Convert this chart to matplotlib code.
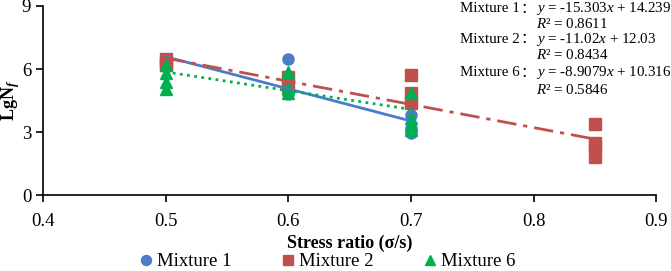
import numpy as np
import matplotlib
matplotlib.use('Agg')
import matplotlib.pyplot as plt

plt.rcParams['font.family']=['Liberation Serif','Noto Sans CJK SC']
plt.rcParams['mathtext.fontset']='custom'
plt.rcParams['mathtext.rm']='Liberation Serif'
plt.rcParams['mathtext.it']='Liberation Serif:italic'
plt.rcParams['mathtext.bf']='Liberation Serif:bold'
plt.rcParams['mathtext.bfit']='Liberation Serif:bold:italic'

# data
m1_x=[0.5,0.5,0.5,0.6,0.6,0.6,0.7,0.7,0.7]
m1_y=[6.5,6.3,6.2,6.48,5.0,4.8,3.8,3.2,2.95]
m2_x=[0.5,0.5,0.5,0.6,0.6,0.7,0.7,0.7,0.85,0.85,0.85,0.85]
m2_y=[6.5,6.3,6.2,5.6,5.2,5.7,4.86,4.4,3.38,2.5,2.3,1.8]
m6_x=[0.5,0.5,0.5,0.5,0.6,0.6,0.6,0.7,0.7,0.7,0.7]
m6_y=[6.2,5.8,5.4,5.05,5.86,5.1,4.86,4.86,3.67,3.33,3.1]

# fitted lines (slope, intercept, r2, x range)
fits={'Mixture 1':(-15.303,14.239,0.8611,0.5,0.7),
      'Mixture 2':(-11.02,12.03,0.8434,0.5,0.85),
      'Mixture 6':(-8.9079,10.316,0.5846,0.5,0.7)}
slope_txt={'Mixture 1':('-15.303','14.239'),'Mixture 2':('-11.02','12.03'),'Mixture 6':('-8.9079','10.316')}

c1='#4A7CC8'
c2='#C0504D'
c6='#00B050'

fig=plt.figure(figsize=(6.71,2.71),dpi=100)
ax=fig.add_axes([0.064,0.28,0.914,0.698])

ax.plot(m1_x,m1_y,'o',color=c1,ms=8,label='Mixture 1',zorder=3)
ax.plot(m2_x,m2_y,'s',color=c2,ms=8.5,label='Mixture 2',zorder=3)
ax.plot(m6_x,m6_y,'^',color=c6,ms=8.5,label='Mixture 6',zorder=3)

styles={'Mixture 1':(c1,'-'),'Mixture 2':(c2,(0,(7,2.5,1.5,2.5))),'Mixture 6':(c6,(0,(1,1.6)))}
for k in fits:
    a,b,r,x0,x1=fits[k]
    xx=np.array([x0,x1])
    col,ls=styles[k]
    ax.plot(xx,a*xx+b,color=col,linestyle=ls,lw=2,zorder=4)

ax.set_xlim(0.4,0.9)
ax.set_ylim(0,9)
ax.set_xticks([0.4,0.5,0.6,0.7,0.8,0.9])
ax.set_xticklabels(['%.1f'%v for v in [0.4,0.5,0.6,0.7,0.8,0.9]])
ax.set_yticks([0,3,6,9])
ax.tick_params(labelsize=13.5,direction='out',length=5,width=1.2,color='black')
ax.tick_params(axis='x',pad=8)
for s in ['top','right']:
    ax.spines[s].set_visible(False)
for s in ['left','bottom']:
    ax.spines[s].set_linewidth(1.2)

ax.set_xlabel('Stress ratio (σ/s)',fontsize=13,fontweight='bold',labelpad=3)
ax.set_ylabel(r'$\mathbf{LgN}_{\mathbfit{f}}$',fontsize=13,labelpad=0)

# equation block, top right
fs=10.8
eq_y=[0.967,0.855,0.732]
r2_y=[0.912,0.797,0.668]
rend=fig.canvas.get_renderer()
for i,k in enumerate(fits):
    a,b,r,x0,x1=fits[k]
    sa,sb=slope_txt[k]
    t=fig.text(460/671,eq_y[i],k,fontsize=fs,va='center',family='Liberation Serif')
    xe=t.get_window_extent(rend).x1
    c=fig.text((xe+0.5)/671,eq_y[i],'：',fontsize=fs,va='center',family='Noto Sans CJK SC')
    xe=c.get_window_extent(rend).x1
    fig.text((xe+1)/671,eq_y[i],'$y$ = '+sa+'$x$ + '+sb,fontsize=fs,va='center')
    fig.text((xe+1)/671,r2_y[i],'$R$² = %.4f'%r,fontsize=fs,va='center')

fig.legend(loc='center',bbox_to_anchor=(0.484,0.035),ncol=3,frameon=False,fontsize=13.5,
           handletextpad=0.0,columnspacing=2.4,handlelength=1.2,markerscale=0.9)

fig.savefig('out.png',dpi=100)
